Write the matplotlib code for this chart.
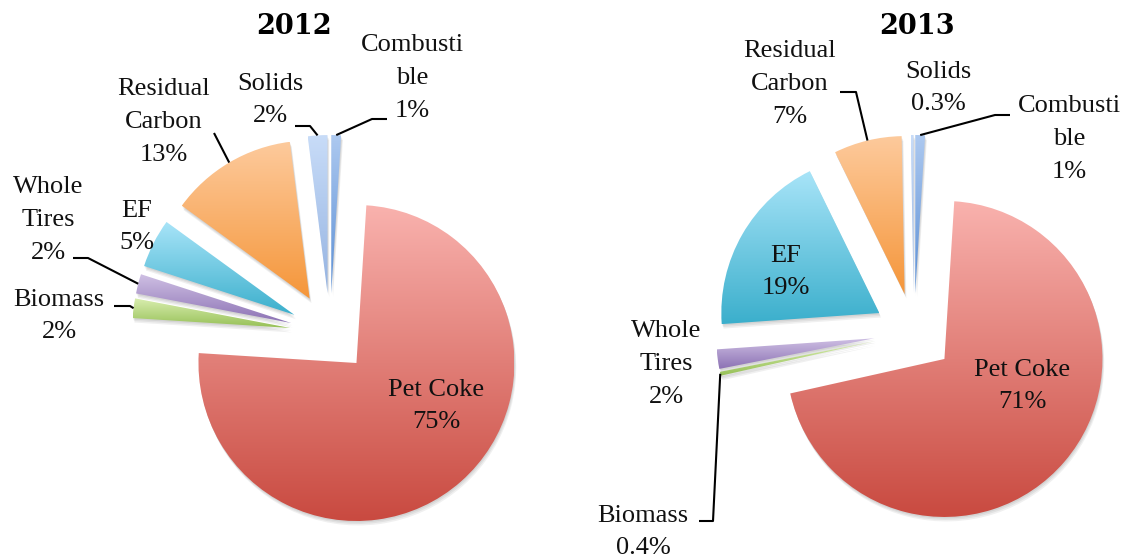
import numpy as np
import matplotlib.pyplot as plt
from matplotlib.colors import to_rgb
from matplotlib.patches import Wedge

W, H = 1127, 559

# slice order runs clockwise from 12 o'clock
categories = ['Combustible', 'Pet Coke', 'Biomass', 'Whole Tires', 'EF',
              'Residual Carbon', 'Solids']
share_2012 = [1, 75, 2, 2, 5, 13, 2]
share_2013 = [1, 71, 0.4, 2, 19, 7, 0.3]

label_names = {'Combustible': 'Combusti\nble', 'Pet Coke': 'Pet Coke',
               'Biomass': 'Biomass', 'Whole Tires': 'Whole\nTires', 'EF': 'EF',
               'Residual Carbon': 'Residual\nCarbon', 'Solids': 'Solids'}

# gradient colours, top -> bottom of each slice
top_colors = {'Combustible': '#ADC9F0', 'Pet Coke': '#F9B2AE', 'Biomass': '#D9EEB0',
              'Whole Tires': '#CFC0E4', 'EF': '#A8E4F8', 'Residual Carbon': '#FDCA9C',
              'Solids': '#C8DCF8'}
bottom_colors = {'Combustible': '#5A8ED4', 'Pet Coke': '#C94A40', 'Biomass': '#96C056',
                 'Whole Tires': '#8C72B4', 'EF': '#3BAFCC', 'Residual Carbon': '#F5963A',
                 'Solids': '#95B3E1'}


def px(x, y):
    # screen-style coords (y down) -> axes coords (y up)
    return x, H - y


# label centres and leader elbows for each year (screen coords)
layout_2012 = {
    'title': (294, 26),
    'Combustible': ((412, 78), [(387, 119), (372, 119)]),
    'Solids': ((270, 100), [(295, 126), (310, 126)]),
    'Residual Carbon': ((164, 122), [(214, 133)]),
    'EF': ((137, 227), None),
    'Whole Tires': ((48, 220), [(73, 258), (88, 258)]),
    'Biomass': ((59, 316), [(114, 306), (130, 306)]),
    'Pet Coke': ((436, 406), None),
}
layout_2013 = {
    'title': (917, 26),
    'Combustible': ((1069, 139), [(1010, 115), (995, 115)]),
    'Solids': ((938, 88), None),
    'Residual Carbon': ((790, 84), [(840, 92), (856, 92)]),
    'EF': ((786, 272), None),
    'Whole Tires': ((666, 364), None),
    'Biomass': ((643, 532), [(699, 521), (713, 521)]),
    'Pet Coke': ((1022, 386), None),
}

label_font = dict(family='Liberation Serif', size=19, color='#111111',
                  ha='center', va='center', linespacing=1.62)

fig = plt.figure(figsize=(W / 100, H / 100), dpi=100)
ax = fig.add_axes([0, 0, 1, 1])


def gradient_fill(wedge, top, bottom):
    bb = wedge.get_path().get_extents()
    t = np.linspace(0, 1, 256)[:, None, None]
    img = (1 - t) * np.array(to_rgb(top)) + t * np.array(to_rgb(bottom))
    im = ax.imshow(img, extent=(bb.x0, bb.x1, bb.y0, bb.y1), origin='upper',
                   aspect='auto', interpolation='bilinear', zorder=2)
    im.set_clip_path(wedge)


def draw_year(year, shares, centre, layout):
    wedges, _ = ax.pie(shares, center=px(*centre), radius=158,
                       explode=[40] * len(shares), startangle=90,
                       counterclock=False, frame=True,
                       wedgeprops=dict(linewidth=0))
    for w, cat, val in zip(wedges, categories, shares):
        w.set_facecolor('none')
        w.set_zorder(1)
        # soft drop shadow
        for d in (1.5, 3.0, 4.5):
            ax.add_patch(Wedge((w.center[0] + d * 0.4, w.center[1] - d), w.r,
                               w.theta1, w.theta2, facecolor='black',
                               edgecolor='none', alpha=0.06, zorder=0.5))
        gradient_fill(w, top_colors[cat], bottom_colors[cat])

        pos, elbow = layout[cat]
        ax.text(*px(*pos), f'{label_names[cat]}\n{val:g}%', zorder=4, **label_font)
        if elbow:
            mid = np.deg2rad((w.theta1 + w.theta2) / 2)
            end = (w.center[0] + w.r * np.cos(mid), w.center[1] + w.r * np.sin(mid))
            pts = [px(*p) for p in elbow] + [end]
            xs, ys = zip(*pts)
            ax.plot(xs, ys, color='black', lw=1.5, zorder=3,
                    solid_capstyle='butt')

    ax.text(*px(*layout['title']), year, family='DejaVu Serif', weight='bold',
            size=19.5, ha='center', va='center', zorder=4)


draw_year('2012', share_2012, (330, 333), layout_2012)
draw_year('2013', share_2013, (914, 333), layout_2013)

ax.set_xlim(0, W)
ax.set_ylim(0, H)
ax.set_aspect('auto')
ax.axis('off')

fig.savefig('out.png', dpi=100)
